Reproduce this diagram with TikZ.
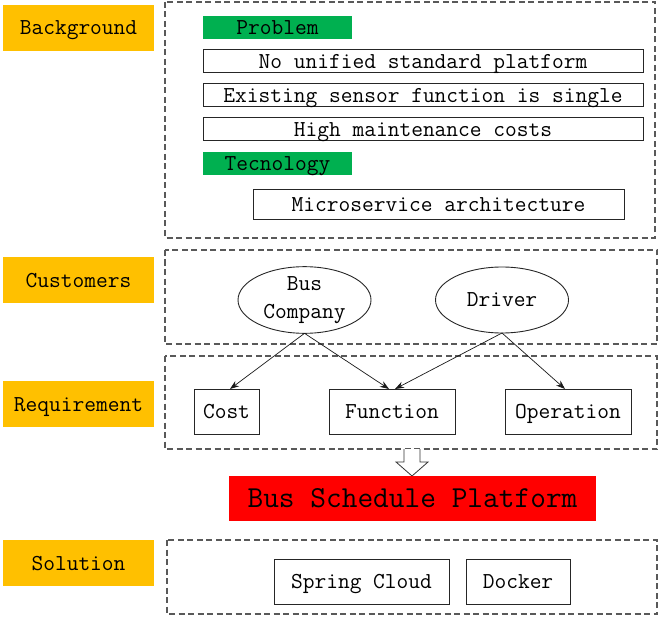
\documentclass[tikz,border=0pt]{standalone}
\usetikzlibrary{shapes.geometric,arrows.meta}
\definecolor{lblorange}{HTML}{FFC000}
\definecolor{lblgreen}{HTML}{00B050}
\definecolor{lblred}{HTML}{FF0000}
\definecolor{dashgray}{HTML}{595959}
\begin{document}
\begin{tikzpicture}[x=1pt,y=-1pt,
  every node/.style={font=\ttfamily\fontsize{22.8}{28}\selectfont, inner sep=0pt, outer sep=0pt, anchor=north west},
  fixt/.style={text height=14pt, text depth=0pt},
  lbl/.style={fixt, fill=lblorange, minimum width=151pt, minimum height=46pt},
  grn/.style={fixt, fill=lblgreen, minimum width=149pt, minimum height=23pt},
  wbox/.style={fixt, draw=black!85, line width=1pt, fill=white, minimum height=23pt},
  rbox/.style={fixt, draw=black!85, line width=1pt, fill=white, minimum height=45pt},
  dbox/.style={draw=dashgray, line width=1.3pt, dash pattern=on 6pt off 3.5pt},
  ell/.style={draw=black!85, line width=0.9pt, ellipse, minimum width=133pt, minimum height=66pt, align=center, anchor=center},
  arr/.style={draw=black!90, line width=0.7pt, -{Stealth[length=9pt,width=6.5pt]}}
]
\useasboundingbox (0,0) rectangle (660,617);
% dashed containers
\draw[dbox] (165,2) rectangle (655,238);
\draw[dbox] (165,250) rectangle (657,344);
\draw[dbox] (165,356) rectangle (657,449);
\draw[dbox] (167,540) rectangle (657,614);
% labels
\node[lbl] (bg) at (3,5) {Background};
\node[lbl] (cu) at (3,257) {Customers};
\node[lbl] (rq) at (3,381) {Requirement};
\node[lbl] (so) at (3,540) {Solution};
% background content
\node[grn] (prob) at (203,16) {Problem};
\node[wbox, minimum width=440pt] (p1) at (203,50) {No unified standard platform};
\node[wbox, minimum width=440pt] (p2) at (203,84) {Existing sensor function is single};
\node[wbox, minimum width=440pt] (p3) at (203,118) {High maintenance costs};
\node[grn] (tech) at (203,152) {Tecnology};
\node[wbox, minimum width=371pt, minimum height=30pt] (ms) at (253,190) {Microservice architecture};
% customers
\node[ell] (bc) at (304.5,300) {Bus\\Company};
\node[ell] (dr) at (502,300) {Driver};
% requirements
\node[rbox, minimum width=65pt] (cost) at (194,389) {Cost};
\node[rbox, minimum width=126pt] (func) at (329,389) {Function};
\node[rbox, minimum width=126pt] (oper) at (505,389) {Operation};
\draw[arr] (bc.south) -- ([xshift=3.5pt]cost.north);
\draw[arr] (bc.south) -- ([xshift=-3pt]func.north);
\draw[arr] (dr.south) -- ([xshift=3pt]func.north);
\draw[arr] (dr.south) -- ([xshift=-3pt]oper.north);
% hollow block arrow
\draw[draw=black!80, line width=0.8pt, fill=white] (404,449) -- (404,462) -- (396,462) -- (412,476) -- (428,462) -- (420,462) -- (420,449);
% platform
\node[text height=18.6pt, text depth=0pt, fill=lblred, minimum width=367pt, minimum height=45pt, font=\ttfamily\fontsize{30.5}{32}\selectfont] (plat) at (229,476) {Bus Schedule Platform};
% solution
\node[rbox, minimum width=175pt] (sc) at (274,559) {Spring Cloud};
\node[rbox, minimum width=104pt] (dk) at (466,559) {Docker};
\end{tikzpicture}
\end{document}
